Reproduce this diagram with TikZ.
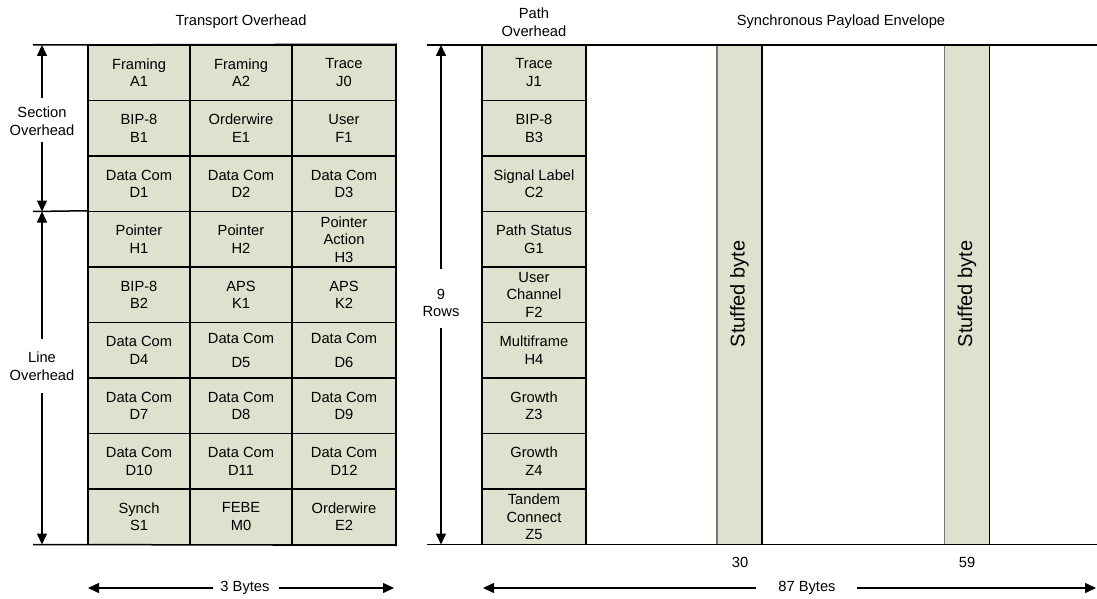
\documentclass[tikz,border=0pt]{standalone}
\usepackage{fontspec}
\setmainfont{Liberation Sans}
\usetikzlibrary{arrows.meta}
\definecolor{cellfill}{RGB}{221,225,205}
\definecolor{edgegray}{RGB}{120,120,120}
\newcommand{\cellfont}{\fontsize{14.7}{17.5}\selectfont}
\begin{document}
\begin{tikzpicture}[x=1pt,y=-1pt,
  cell/.style={draw=black, line width=1.5pt, fill=cellfill, inner sep=0pt,
    align=center, minimum height=55.5pt, font=\cellfont},
  lbl/.style={align=center, font=\cellfont, inner sep=0pt},
  frame/.style={line width=1.5pt, black},
  dim/.style={line width=1.5pt, black, -{Triangle[length=11pt,width=10pt]}},
  stuffed/.style={fill=cellfill, inner sep=0pt, minimum width=45pt, minimum height=499.5pt},
  stufftext/.style={rotate=90, font=\fontsize{20}{24}\selectfont, inner sep=0pt}]
\useasboundingbox (0,0) rectangle (1097,599);

% ---- Transport overhead: 9 rows x 3 columns ----
\foreach \r/\a/\b/\c in {
  1/{Framing\\A1}/{Framing\\A2}/{Trace\\J0},
  2/{BIP-8\\B1}/{Orderwire\\E1}/{User\\F1},
  3/{Data Com\\D1}/{Data Com\\D2}/{Data Com\\D3},
  4/{Pointer\\H1}/{Pointer\\H2}/{Pointer\\Action\\H3},
  5/{BIP-8\\B2}/{APS\\K1}/{APS\\K2},
  6/{Data Com\\D4}/{Data Com\\[6pt]D5}/{Data Com\\[6pt]D6},
  7/{Data Com\\D7}/{Data Com\\D8}/{Data Com\\D9},
  8/{Data Com\\D10}/{Data Com\\D11}/{Data Com\\D12},
  9/{Synch\\S1}/{FEBE\\M0}/{Orderwire\\E2}}{
  \pgfmathsetmacro\yc{45+55.5*(\r-0.5)}
  \node[cell, minimum width=102pt] (to-\r-1) at (139,\yc) {\a};
  \node[cell, minimum width=102pt] (to-\r-2) at (241,\yc) {\b};
  \node[cell, minimum width=104pt] (to-\r-3) at (344,\yc) {\c};
}

% ---- Path overhead column ----
\foreach \r/\a in {
  1/{Trace\\J1}, 2/{BIP-8\\B3}, 3/{Signal Label\\C2}, 4/{Path Status\\G1},
  5/{User\\Channel\\F2}, 6/{Multiframe\\H4}, 7/{Growth\\Z3}, 8/{Growth\\Z4},
  9/{Tandem\\Connect\\Z5}}{
  \pgfmathsetmacro\yc{45+55.5*(\r-0.5)}
  \node[cell, minimum width=104pt] (po-\r) at (534,\yc) {\a};
}

% ---- Stuffed byte columns ----
\node[stuffed] (s30) at (739.5,294.75) {};
\node[stuffed] (s59) at (967,294.75) {};
\foreach \s in {s30,s59}{
  \draw[line width=1.5pt, edgegray] (\s.north west) -- (\s.south west);
  \draw[line width=1.5pt, black] (\s.north east) -- (\s.south east);
}
\node[stufftext] (st30) at (739.5,294) {Stuffed byte};
\node[stufftext] (st59) at (967,294) {Stuffed byte};
\node[lbl] (n30) at (740,562) {30};
\node[lbl] (n59) at (967,562) {59};

% ---- Frame lines ----
\coordinate (tl) at (33,45);
\coordinate (ml) at (33,211.5);
\coordinate (bl) at (33,544.5);
\coordinate (tr) at (427,45);
\coordinate (br) at (427,544.5);
\coordinate (tre) at (1097,45);
\coordinate (bre) at (1097,544.5);
\draw[frame] (tl) -- (to-1-3.north east);
\draw[frame] (ml) -- (to-4-1.north west);
\draw[frame] (bl) -- (to-9-3.south east);
\draw[frame] (tr) -- (tre);
\draw[frame] (br) -- (bre);

% ---- Headings ----
\node[lbl] (hto) at (241,22) {Transport Overhead};
\node[lbl] (hpo) at (534,22) {Path\\Overhead};
\node[lbl] (hspe) at (841,22) {Synchronous Payload Envelope};

% ---- Row dimension arrows (yshift is in page direction: + is up) ----
\node[lbl] (sec) at (42,121) {Section\\Overhead};
\coordinate (secT) at (42,45);
\coordinate (secB) at (42,211.5);
\draw[dim] ([yshift=9pt]sec.north) -- (secT);
\draw[dim] ([yshift=-7pt]sec.south) -- (secB);

\node[lbl] (lin) at (42,366) {Line\\Overhead};
\coordinate (linT) at (42,211.5);
\coordinate (linB) at (42,544.5);
\draw[dim] ([yshift=13pt]lin.north) -- (linT);
\draw[dim] ([yshift=-13pt]lin.south) -- (linB);

\node[lbl] (rows) at (441,303) {9\\Rows};
\coordinate (rowsT) at (441,45);
\coordinate (rowsB) at (441,544.5);
\draw[dim] ([yshift=20pt]rows.north) -- (rowsT);
\draw[dim] ([yshift=-11pt]rows.south) -- (rowsB);

% ---- Column dimension arrows ----
\node[lbl] (b3) at (245,588) {3 Bytes};
\coordinate (b3L) at (88,588);
\coordinate (b3R) at (394,588);
\draw[dim] ([xshift=-7pt]b3.west) -- (b3L);
\draw[dim] ([xshift=9pt]b3.east) -- (b3R);

\node[lbl] (b87) at (807,588) {87 Bytes};
\coordinate (b87L) at (483,588);
\coordinate (b87R) at (1096,588);
\draw[dim] ([xshift=-22pt]b87.west) -- (b87L);
\draw[dim] ([xshift=21pt]b87.east) -- (b87R);
\end{tikzpicture}
\end{document}
